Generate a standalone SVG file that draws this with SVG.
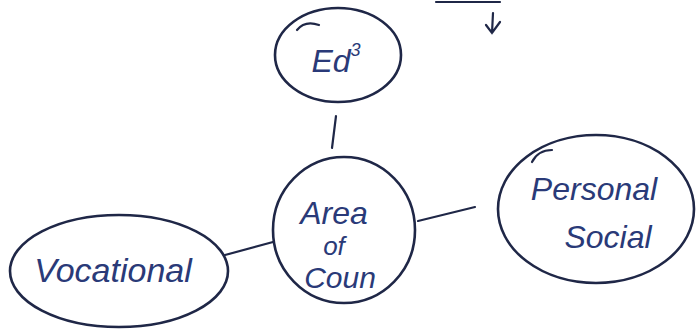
<svg xmlns="http://www.w3.org/2000/svg" width="696" height="333" viewBox="0 0 696 333">
<style>
.node{fill:none;stroke:#1f2747;stroke-width:2.6}
.edge{fill:none;stroke:#1f2747;stroke-width:2.2;stroke-linecap:round}
.lbl{font-family:"Liberation Sans","DejaVu Sans",sans-serif;fill:#2a3a78;text-anchor:middle;font-style:italic}
</style>
<rect width="696" height="333" fill="#ffffff"/>
<g id="connectors">
<line class="edge" x1="336" y1="116" x2="332" y2="148"/>
<line class="edge" x1="418" y1="221" x2="475" y2="207"/>
<line class="edge" x1="225" y1="255" x2="273" y2="242"/>
<line class="edge" x1="436" y1="2" x2="500" y2="2" stroke="#3a4a8a" stroke-width="3"/>
<path class="edge" d="M493 13 L492 33 M486 25 L492 33 L500 22"/>
</g>
<g id="ed">
<ellipse class="node" cx="338" cy="55" rx="63" ry="47"/>
<path class="edge" d="M297 30 Q305 20 319 25"/>
<text class="lbl" x="336" y="72" font-size="32">Ed<tspan font-size="18" dy="-16">3</tspan></text>
</g>
<g id="area">
<ellipse class="node" cx="344" cy="230" rx="71" ry="73"/>
<text class="lbl" x="334" y="224" font-size="32">Area</text>
<text class="lbl" x="334" y="255" font-size="26">of</text>
<text class="lbl" x="340" y="288" font-size="30">Coun</text>
</g>
<g id="personal">
<ellipse class="node" cx="596" cy="209" rx="98" ry="74"/>
<path class="edge" d="M532 162 Q538 150 552 150"/>
<text class="lbl" x="594" y="200" font-size="32">Personal</text>
<text class="lbl" x="608" y="248" font-size="32">Social</text>
</g>
<g id="vocational">
<ellipse class="node" cx="119" cy="271" rx="109" ry="56"/>
<text class="lbl" x="113" y="282" font-size="34">Vocational</text>
</g>
</svg>
